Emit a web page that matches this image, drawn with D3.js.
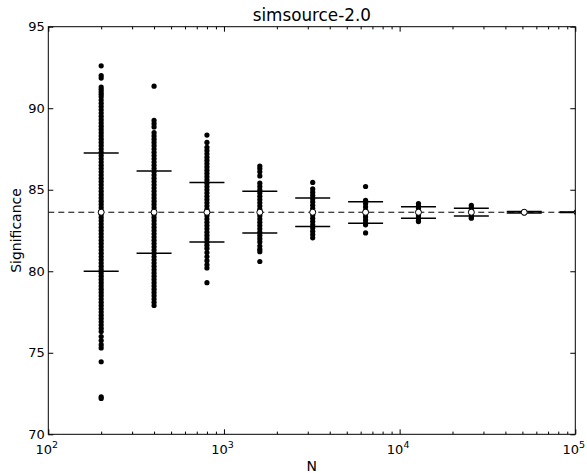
<!DOCTYPE html>
<html><head><meta charset="utf-8">
<script src="https://cdn.jsdelivr.net/npm/d3@7"></script>
<style>body{margin:0;background:#fff} svg{display:block} text{font-family:"DejaVu Sans",sans-serif;fill:#000}</style>
</head><body><svg id="c" width="587" height="473"></svg>
<script>
const Ns = [200, 400, 800, 1600, 3200, 6400, 12800, 25600, 51200, 102400];
const vals200 = [92.6,92.0,91.85,91.3,91.15,91.0,90.85,
 90.7,90.5,90.3,90.1,89.9,89.7,89.5,89.3,89.1,88.9,88.7,88.5,88.3,88.1,87.9,87.7,87.5,87.3,87.1,86.9,86.7,86.5,86.3,86.1,
 85.9,85.7,85.5,85.3,85.1,84.9,84.7,84.5,84.3,84.1,83.9,83.7,83.5,83.3,83.1,82.9,82.7,82.5,82.3,82.1,81.9,81.7,81.5,81.3,81.1,
 80.9,80.7,80.5,80.3,80.1,79.9,79.7,79.5,79.3,79.1,78.9,78.7,78.5,78.3,78.1,77.9,77.7,77.5,77.3,77.1,76.9,76.7,
 76.5,76.3,76.0,75.75,75.5,75.3,74.45,72.3,72.2];
const vals400 = [91.35,89.25,89.05,88.85,
 88.5,88.3,88.1,87.9,87.7,87.5,87.3,87.1,86.9,86.7,86.5,86.3,86.1,85.9,85.7,85.5,85.3,85.1,84.9,84.7,84.5,84.3,84.1,
 83.9,83.7,83.5,83.3,83.1,82.9,82.7,82.5,82.3,82.1,81.9,81.7,81.5,81.3,81.1,80.9,80.7,80.5,80.3,80.1,79.9,79.7,79.5,
 79.3,79.1,78.9,78.7,78.5,78.3,78.1,77.9];
const vals800 = [88.35,87.9,87.6,87.4,87.2,87.0,86.8,86.6,86.4,86.2,86.0,85.8,85.6,85.4,85.2,85.0,84.8,84.6,84.4,84.2,
 84.0,83.8,83.6,83.4,83.2,83.0,82.8,82.6,82.4,82.2,82.0,81.8,81.6,81.4,81.15,80.9,80.65,80.4,80.2,79.3];
const vals1600 = [86.45,86.3,86.1,85.85,85.4,85.2,85.0,84.8,84.6,84.4,84.2,84.0,83.8,83.6,83.4,83.2,83.0,82.8,82.6,
 82.4,82.2,82.0,81.8,81.55,81.35,81.2,80.6];
const vals3200 = [85.45,85.05,84.85,84.65,84.45,84.25,84.05,83.85,83.65,83.45,83.25,83.05,82.85,82.65,82.45,82.25,82.05];
const vals6400 = [85.2,84.35,84.15,83.95,83.75,83.55,83.35,83.15,82.95,82.85,82.35];
const vals12800 = [84.15,84.0,83.85,83.7,83.55,83.4,83.25,83.1,83.05];
const vals25600 = [84.05,83.9,83.75,83.6,83.45,83.3,83.25];
const vals51200 = [83.66,83.62,83.58];
const vals102400 = [83.63,83.6];
const values = [vals200, vals400, vals800, vals1600, vals3200, vals6400, vals12800, vals25600, vals51200, vals102400];
const capHi = [87.25, 86.15, 85.45, 84.9, 84.5, 84.27, 83.96, 83.86, 83.66, 83.63];
const capLo = [80.0, 81.1, 81.8, 82.35, 82.75, 82.94, 83.25, 83.39, 83.58, 83.6];
const meanSig = 83.62;
const yTicks = [70, 75, 80, 85, 90, 95];
const xMajor = [100, 1000, 10000, 100000];
const titleText = "simsource-2.0", xLabel = "N", yLabel = "Significance";

const L = 48.3, R = 575.3, T = 26.7, B = 434.3;
const svg = d3.select("#c");
const x = d3.scaleLog().domain([100, 100000]).range([L, R]);
const y = d3.scaleLinear().domain([70, 95]).range([B, T]);

svg.append("defs").append("clipPath").attr("id", "clip")
  .append("rect").attr("x", L).attr("y", T).attr("width", R - L).attr("height", B - T);
const plot = svg.append("g").attr("clip-path", "url(#clip)");

// dots
values.forEach((vs, i) => {
  plot.append("g").selectAll("circle").data(vs).join("circle")
    .attr("cx", x(Ns[i])).attr("cy", d => y(d)).attr("r", 2.6).attr("fill", "#000");
});
// caps
const capW = 17.5;
Ns.forEach((n, i) => {
  [capHi[i], capLo[i]].forEach(v => {
    plot.append("line").attr("x1", x(n) - capW).attr("x2", x(n) + capW)
      .attr("y1", y(v)).attr("y2", y(v)).attr("stroke", "#000").attr("stroke-width", 1.5);
  });
});
// dashed mean line
plot.append("line").attr("x1", L).attr("x2", R).attr("y1", y(meanSig)).attr("y2", y(meanSig))
  .attr("stroke", "#000").attr("stroke-width", 1).attr("stroke-dasharray", "6,4");
// mean markers
plot.append("g").selectAll("circle").data(Ns).join("circle")
  .attr("cx", d => x(d)).attr("cy", y(meanSig)).attr("r", 3)
  .attr("fill", "#fff").attr("stroke", "#000").attr("stroke-width", 1);

// axes (inward ticks)
const minor = x.ticks().filter(t => !xMajor.includes(t));
function styleAx(g) { g.select(".domain").remove(); g.selectAll("line").attr("stroke", "#000"); }
svg.append("g").attr("transform", `translate(0,${B})`)
  .call(d3.axisBottom(x).tickValues(xMajor).tickSize(-5).tickFormat("")).call(styleAx);
svg.append("g").attr("transform", `translate(0,${B})`)
  .call(d3.axisBottom(x).tickValues(minor).tickSize(-2.7).tickFormat("")).call(styleAx);
svg.append("g").attr("transform", `translate(0,${T})`)
  .call(d3.axisTop(x).tickValues(xMajor).tickSize(-5).tickFormat("")).call(styleAx);
svg.append("g").attr("transform", `translate(0,${T})`)
  .call(d3.axisTop(x).tickValues(minor).tickSize(-2.7).tickFormat("")).call(styleAx);
const yl = svg.append("g").attr("transform", `translate(${L},0)`)
  .call(d3.axisLeft(y).tickValues(yTicks).tickSize(-5).tickPadding(3.5).tickFormat(d3.format("d"))).call(styleAx);
yl.selectAll("text").attr("font-size", 13).attr("font-family", "DejaVu Sans").attr("fill", "#000");
svg.append("g").attr("transform", `translate(${R},0)`)
  .call(d3.axisRight(y).tickValues(yTicks).tickSize(-5).tickFormat("")).call(styleAx);

// frame
svg.append("rect").attr("x", L).attr("y", T).attr("width", R - L).attr("height", B - T)
  .attr("fill", "none").attr("stroke", "#000").attr("stroke-width", 1);

// x tick labels with superscripts
xMajor.forEach(v => {
  const t = svg.append("text").attr("x", x(v) - 1.5).attr("y", 454).attr("text-anchor", "middle").attr("font-size", 13);
  t.append("tspan").text("10");
  t.append("tspan").attr("font-size", 9.5).attr("dy", -6.5).text(String(Math.round(Math.log10(v))));
});

// title and labels
svg.append("text").attr("x", (L + R) / 2).attr("y", 21).attr("text-anchor", "middle").attr("font-size", 16.8).text(titleText);
svg.append("text").attr("x", (L + R) / 2).attr("y", 470.5).attr("text-anchor", "middle").attr("font-size", 14).text(xLabel);
svg.append("text").attr("transform", `translate(21,${(T + B) / 2}) rotate(-90)`).attr("text-anchor", "middle")
  .attr("font-size", 14).text(yLabel);
</script></body></html>
